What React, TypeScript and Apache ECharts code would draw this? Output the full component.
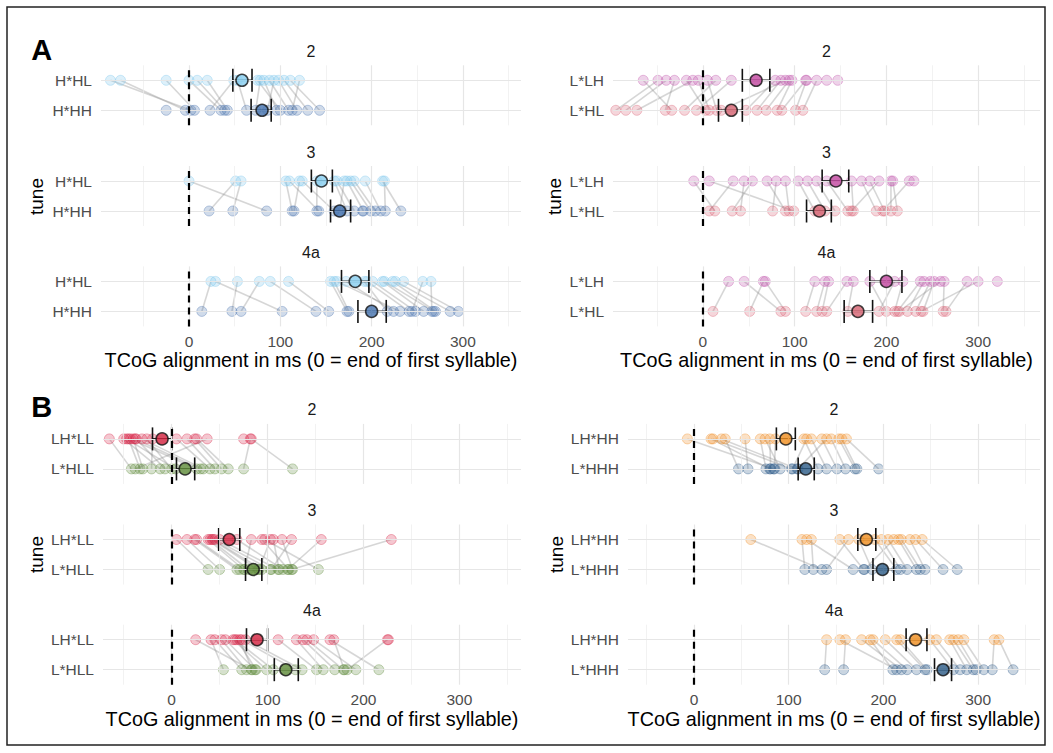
import React, { useEffect, useRef } from 'react';
import * as echarts from 'echarts';

// ---------- labels ----------
const FACETS = ['2', '3', '4a'];
const MAJOR_TICKS = [0, 100, 200, 300];
const MINOR_TICKS = [-50, 50, 150, 250, 350];
const X_TITLE = 'TCoG alignment in ms (0 = end of first syllable)';
const Y_TITLE = 'tune';

// ---------- Panel A left: H*HL (upper row) vs H*HH (lower row); index i = same speaker ----------
const aL_tunes = ['H*HL', 'H*HH'];
const aL_top_2 = [-86, -75, -25, 0, 9, 20, 49, 53, 75, 78, 82, 88, 93, 98, 104, 111, 121, null];
const aL_bot_2 = [2, -4, 6, 35, 39, 42, 23, 63, 100, 73, 96, 109, 86, 118, 130, 143, 113, -25];
const aL_top_3 = [0, 51, 57, 106, 110, 121, 124, 140, 159, 162, 170, 173, 177, 181, 193, 212, 214, null];
const aL_bot_3 = [85, 22, 48, 113, 142, 115, 159, 140, 173, 181, 165, 191, 199, 204, 210, 232, 215, 190];
const aL_top_4a = [24, 29, 53, 77, 89, 109, 155, 159, 162, 172, 192, 195, 201, 212, 214, 223, 226, 235, 256, 265];
const aL_bot_4a = [14, 102, 47, 57, 139, 153, 173, 175, 231, 224, 217, 241, 248, 257, 268, 270, 286, 295, 244, 266];
const aL_topMean = [58, 145, 182];
const aL_topLo = [48, 134, 167];
const aL_topHi = [69, 157, 197];
const aL_botMean = [80, 165, 200];
const aL_botLo = [68, 155, 185];
const aL_botHi = [90, 177, 216];

// ---------- Panel A right: L*LH vs L*HL ----------
const aR_tunes = ['L*LH', 'L*HL'];
const aR_top_2 = [-65, -49, -40, -31, -18, -11, -5, 5, 14, 31, 79, 85, 90, 94, 97, 112, 113, 124, 135, 147];
const aR_bot_2 = [-34, -95, -84, -41, 3, -72, 7, 15, -20, -7, 47, 59, 20, 69, 81, 86, 101, 109, null, null];
const aR_top_3 = [-10, 7, 33, 45, 54, 70, 80, 90, 104, 114, 124, 135, 162, 173, 182, 192, 205, 207, 225, 230];
const aR_bot_3 = [13, 99, 7, 41, 32, 90, 76, 94, 122, 133, 144, 158, 164, 189, 198, 162, 205, 212, 196, null];
const aR_top_4a = [28, 45, 66, 68, 122, 133, 137, 157, 164, 182, 209, 218, 237, 241, 248, 252, 259, 263, 288, 300, 321];
const aR_bot_4a = [11, 85, 51, 90, 112, 124, 130, 135, 158, 200, 192, 209, 212, 223, 232, 240, 214, 262, 265, 238, null];
const aR_topMean = [58, 145, 200];
const aR_topLo = [43, 130, 182];
const aR_topHi = [73, 159, 217];
const aR_botMean = [31, 127, 169];
const aR_botLo = [17, 113, 154];
const aR_botHi = [43, 140, 185];

// ---------- Panel B left: LH*LL vs L*HLL ----------
const bL_tunes = ['LH*LL', 'L*HLL'];
const bL_top_2 = [-65, -50, -47, -45, -43, -40, -38, -37, -31, -26, -20, 5, 16, 24, 26, 37, 75, 82, 83];
const bL_bot_2 = [-42, -12, 4, -33, 26, -30, 30, -7, 33, 0, -21, 40, 45, 52, 59, -38, null, 75, 126];
const bL_top_3 = [5, 16, 24, 26, 38, 40, 42, 43, 45, 50, 68, 83, 94, 97, 103, 106, 115, 125, 156, 229];
const bL_bot_3 = [38, 50, 68, 71, 75, 80, 90, 94, 103, 111, 116, 76, 122, 153, 91, 112, 126, 104, 121, 125];
const bL_top_4a = [25, 41, 45, 52, 56, 64, 66, 68, 71, 73, 77, 111, 130, 137, 141, 148, 165, 169, 225, 226];
const bL_bot_4a = [83, 54, 73, 78, 87, 99, 106, 88, 84, 129, 136, 151, 158, 170, 179, 192, 216, 180, 183, null];
const bL_topMean = [-10, 60, 89];
const bL_topLo = [-20, 49, 78];
const bL_topHi = [0, 71, 100];
const bL_botMean = [14, 85, 119];
const bL_botLo = [5, 77, 107];
const bL_botHi = [24, 94, 132];

// ---------- Panel B right: LH*HH vs L*HHH ----------
const bR_tunes = ['LH*HH', 'L*HHH'];
const bR_top_2 = [-7, 18, 20, 29, 33, 54, 70, 75, 80, 86, 116, 119, 124, 135, 140, 145, 153, 156, 161];
const bR_bot_2 = [84, 80, 103, 109, 47, 57, 76, 91, 81, 85, 131, 104, 140, 151, 110, 160, 170, 172, 195];
const bR_top_3 = [60, 114, 119, 124, 154, 163, 174, 191, 198, 205, 211, 216, 219, 228, 234, 241];
const bR_bot_3 = [135, 117, 168, 126, 179, 140, 188, 214, 218, 225, 180, 235, 239, 244, 263, 278];
const bR_top_4a = [140, 154, 160, 177, 186, 189, 202, 214, 218, 249, 256, 270, 274, 279, 285, 317, 322];
const bR_bot_4a = [138, 214, 158, 219, 210, 225, 235, 244, 246, 274, 281, 288, 295, 298, 306, 315, 337];
const bR_topMean = [97, 182, 234];
const bR_topLo = [87, 173, 224];
const bR_topHi = [107, 192, 246];
const bR_botMean = [118, 199, 263];
const bR_botLo = [110, 189, 254];
const bR_botHi = [127, 211, 272];

const FONT = '"Liberation Sans", Arial, Helvetica, sans-serif';

type Panel = {
  left: number; width: number; tops: number[]; xMin: number; xMax: number;
  tunes: string[];
  pointRGB: [string, string]; meanColor: [string, string];
  top: (number | null)[][]; bot: (number | null)[][];
  topMean: number[]; topLo: number[]; topHi: number[];
  botMean: number[]; botLo: number[]; botHi: number[];
  tuneX: number; tuneY: number;
  letter?: string; letterX?: number; letterY?: number;
};

const PANELS: Panel[] = [
  {
    left: 101, width: 420, tops: [65.3, 166, 266.4], xMin: -96.4, xMax: 363.6, tunes: aL_tunes,
    pointRGB: ['120,196,236', '70,112,172'], meanColor: ['#86CDEF', '#4372AE'],
    top: [aL_top_2, aL_top_3, aL_top_4a], bot: [aL_bot_2, aL_bot_3, aL_bot_4a],
    topMean: aL_topMean, topLo: aL_topLo, topHi: aL_topHi, botMean: aL_botMean, botLo: aL_botLo, botHi: aL_botHi,
    tuneX: 36.7, tuneY: 196.5, letter: 'A', letterX: 41.7, letterY: 49.5,
  },
  {
    left: 613, width: 427, tops: [65.3, 166, 266.4], xMin: -98, xMax: 367.5, tunes: aR_tunes,
    pointRGB: ['190,80,170', '215,95,115'], meanColor: ['#C0449E', '#D5606F'],
    top: [aR_top_2, aR_top_3, aR_top_4a], bot: [aR_bot_2, aR_bot_3, aR_bot_4a],
    topMean: aR_topMean, topLo: aR_topLo, topHi: aR_topHi, botMean: aR_botMean, botLo: aR_botLo, botHi: aR_botHi,
    tuneX: 554, tuneY: 196.5,
  },
  {
    left: 103, width: 418, tops: [423.9, 524.5, 624.7], xMin: -71.6, xMax: 364.2, tunes: bL_tunes,
    pointRGB: ['214,36,70', '95,138,58'], meanColor: ['#D21F3C', '#5C8A36'],
    top: [bL_top_2, bL_top_3, bL_top_4a], bot: [bL_bot_2, bL_bot_3, bL_bot_4a],
    topMean: bL_topMean, topLo: bL_topLo, topHi: bL_topHi, botMean: bL_botMean, botLo: bL_botLo, botHi: bL_botHi,
    tuneX: 36.7, tuneY: 554.5, letter: 'B', letterX: 41.7, letterY: 407,
  },
  {
    left: 628, width: 412, tops: [423.9, 524.5, 624.7], xMin: -69.7, xMax: 365.4, tunes: bR_tunes,
    pointRGB: ['239,138,30', '44,90,136'], meanColor: ['#EF8C1C', '#2B5A86'],
    top: [bR_top_2, bR_top_3, bR_top_4a], bot: [bR_bot_2, bR_bot_3, bR_bot_4a],
    topMean: bR_topMean, topLo: bR_topLo, topHi: bR_topHi, botMean: bR_botMean, botLo: bR_botLo, botHi: bR_botHi,
    tuneX: 556, tuneY: 554.5,
  },
];

const PANEL_H = 60;
const CAP = 11.5;

function buildOption() {
  const grid: any[] = [];
  const xAxis: any[] = [];
  const yAxis: any[] = [];
  const series: any[] = [];
  const graphic: any[] = [];

  graphic.push({
    type: 'rect', shape: { x: 7, y: 7, width: 1038, height: 738 },
    style: { fill: 'none', stroke: '#222', lineWidth: 1.5 }, silent: true,
  });

  PANELS.forEach((p) => {
    if (p.letter) {
      graphic.push({
        type: 'text', x: p.letterX, y: p.letterY,
        style: { text: p.letter, font: `bold 29px ${FONT}`, fill: '#000', align: 'center', verticalAlign: 'middle' },
      });
    }
    graphic.push({
      type: 'text', x: p.tuneX, y: p.tuneY, rotation: Math.PI / 2,
      style: { text: Y_TITLE, font: `19px ${FONT}`, fill: '#000', align: 'center', verticalAlign: 'middle' },
    });

    FACETS.forEach((facet, f) => {
      const g = grid.length;
      const isBottom = f === FACETS.length - 1;
      grid.push({ left: p.left, top: p.tops[f], width: p.width, height: PANEL_H });
      graphic.push({
        type: 'text', x: p.left + p.width / 2, y: p.tops[f] - 14,
        style: { text: facet, font: `16px ${FONT}`, fill: '#1a1a1a', align: 'center', verticalAlign: 'middle' },
      });
      xAxis.push({
        gridIndex: g, type: 'value', min: p.xMin, max: p.xMax,
        axisLine: { show: false }, axisTick: { show: false }, splitLine: { show: false },
        axisLabel: {
          show: isBottom, color: '#4d4d4d', fontSize: 15.5, fontFamily: FONT, margin: 7,
          formatter: (v: number) => (MAJOR_TICKS.some((t) => Math.abs(t - v) < 1e-6) ? String(Math.round(v)) : ''),
        },
        name: isBottom ? X_TITLE : '', nameLocation: 'middle', nameGap: 24,
        nameTextStyle: { fontSize: 19.8, color: '#000', fontFamily: FONT },
      });
      yAxis.push({
        gridIndex: g, type: 'category', data: [p.tunes[1], p.tunes[0]], boundaryGap: true,
        axisLine: { show: false }, axisTick: { show: false }, splitLine: { show: false },
        axisLabel: { color: '#4d4d4d', fontSize: 15.5, fontFamily: FONT, margin: 9 },
      });

      const tops = p.top[f];
      const bots = p.bot[f];
      const pairs: number[][] = [];
      tops.forEach((t, i) => {
        const b = bots[i];
        if (t != null && b != null) pairs.push([t, b, 0]);
      });
      const topPts = tops.filter((v) => v != null).map((v) => [v as number, 1]);
      const botPts = bots.filter((v) => v != null).map((v) => [v as number, 0]);

      const gridLines = [
        ...MINOR_TICKS.map((t) => ({ xAxis: t, lineStyle: { color: '#ececec', width: 0.7, type: 'solid' } })),
        ...MAJOR_TICKS.map((t) => ({ xAxis: t, lineStyle: { color: '#e6e6e6', width: 1.2, type: 'solid' } })),
        { yAxis: p.tunes[0], lineStyle: { color: '#e6e6e6', width: 1.2, type: 'solid' } },
        { yAxis: p.tunes[1], lineStyle: { color: '#e6e6e6', width: 1.2, type: 'solid' } },
      ];

      // pair lines
      series.push({
        type: 'custom', xAxisIndex: g, yAxisIndex: g, z: 2, silent: true,
        encode: { x: [0, 1], y: 2 },
        data: pairs,
        renderItem: (params: any, api: any) => {
          const a = api.coord([api.value(0), 1]);
          const b = api.coord([api.value(1), 0]);
          return {
            type: 'line', shape: { x1: a[0], y1: a[1], x2: b[0], y2: b[1] },
            style: { stroke: 'rgba(140,140,140,0.36)', lineWidth: 1.6 },
          };
        },
      });
      // upper row points (also hosts grid lines)
      series.push({
        type: 'scatter', xAxisIndex: g, yAxisIndex: g, z: 2, silent: true,
        data: topPts, symbolSize: 10,
        itemStyle: { color: `rgba(${p.pointRGB[0]},0.32)`, borderColor: `rgba(${p.pointRGB[0]},0.45)`, borderWidth: 1 },
        markLine: { silent: true, symbol: ['none', 'none'], label: { show: false }, data: gridLines, animation: false },
      });
      series.push({
        type: 'scatter', xAxisIndex: g, yAxisIndex: g, z: 3, silent: true,
        data: botPts, symbolSize: 10,
        itemStyle: { color: `rgba(${p.pointRGB[1]},0.32)`, borderColor: `rgba(${p.pointRGB[1]},0.45)`, borderWidth: 1 },
      });
      // error bars (also hosts zero line)
      series.push({
        type: 'custom', xAxisIndex: g, yAxisIndex: g, z: 4, silent: true,
        encode: { x: [0, 1], y: 2 },
        data: [
          [p.topLo[f], p.topHi[f], 1],
          [p.botLo[f], p.botHi[f], 0],
        ],
        renderItem: (params: any, api: any) => {
          const l = api.coord([api.value(0), api.value(2)]);
          const h = api.coord([api.value(1), api.value(2)]);
          const st = { stroke: '#111', lineWidth: 1.6 };
          return {
            type: 'group',
            children: [
              { type: 'line', shape: { x1: l[0], y1: l[1], x2: h[0], y2: h[1] }, style: st },
              { type: 'line', shape: { x1: l[0], y1: l[1] - CAP, x2: l[0], y2: l[1] + CAP }, style: st },
              { type: 'line', shape: { x1: h[0], y1: h[1] - CAP, x2: h[0], y2: h[1] + CAP }, style: st },
            ],
          };
        },
      });
      series.push({
        type: 'scatter', xAxisIndex: g, yAxisIndex: g, z: 5, silent: true,
        symbolSize: 12,
        data: [
          { value: [p.topMean[f], 1], itemStyle: { color: p.meanColor[0] } },
          { value: [p.botMean[f], 0], itemStyle: { color: p.meanColor[1] } },
        ],
        itemStyle: { borderColor: '#111', borderWidth: 1.5 },
        markLine: {
          silent: true, symbol: ['none', 'none'], label: { show: false }, animation: false,
          data: [{ xAxis: 0, lineStyle: { color: '#000', width: 2.2, type: [7, 5] } }],
        },
      });
    });
  });

  return {
    animation: false,
    backgroundColor: '#ffffff',
    textStyle: { fontFamily: FONT },
    grid, xAxis, yAxis, series, graphic,
  };
}

export default function App() {
  const ref = useRef<HTMLDivElement>(null);
  useEffect(() => {
    if (!ref.current) return;
    const chart = echarts.init(ref.current, undefined, { renderer: 'svg' });
    chart.setOption(buildOption() as any);
    return () => chart.dispose();
  }, []);
  return (
    <div
      ref={ref}
      style={{ position: 'absolute', left: 0, top: 0, width: 1053, height: 753, background: '#fff' }}
    />
  );
}
